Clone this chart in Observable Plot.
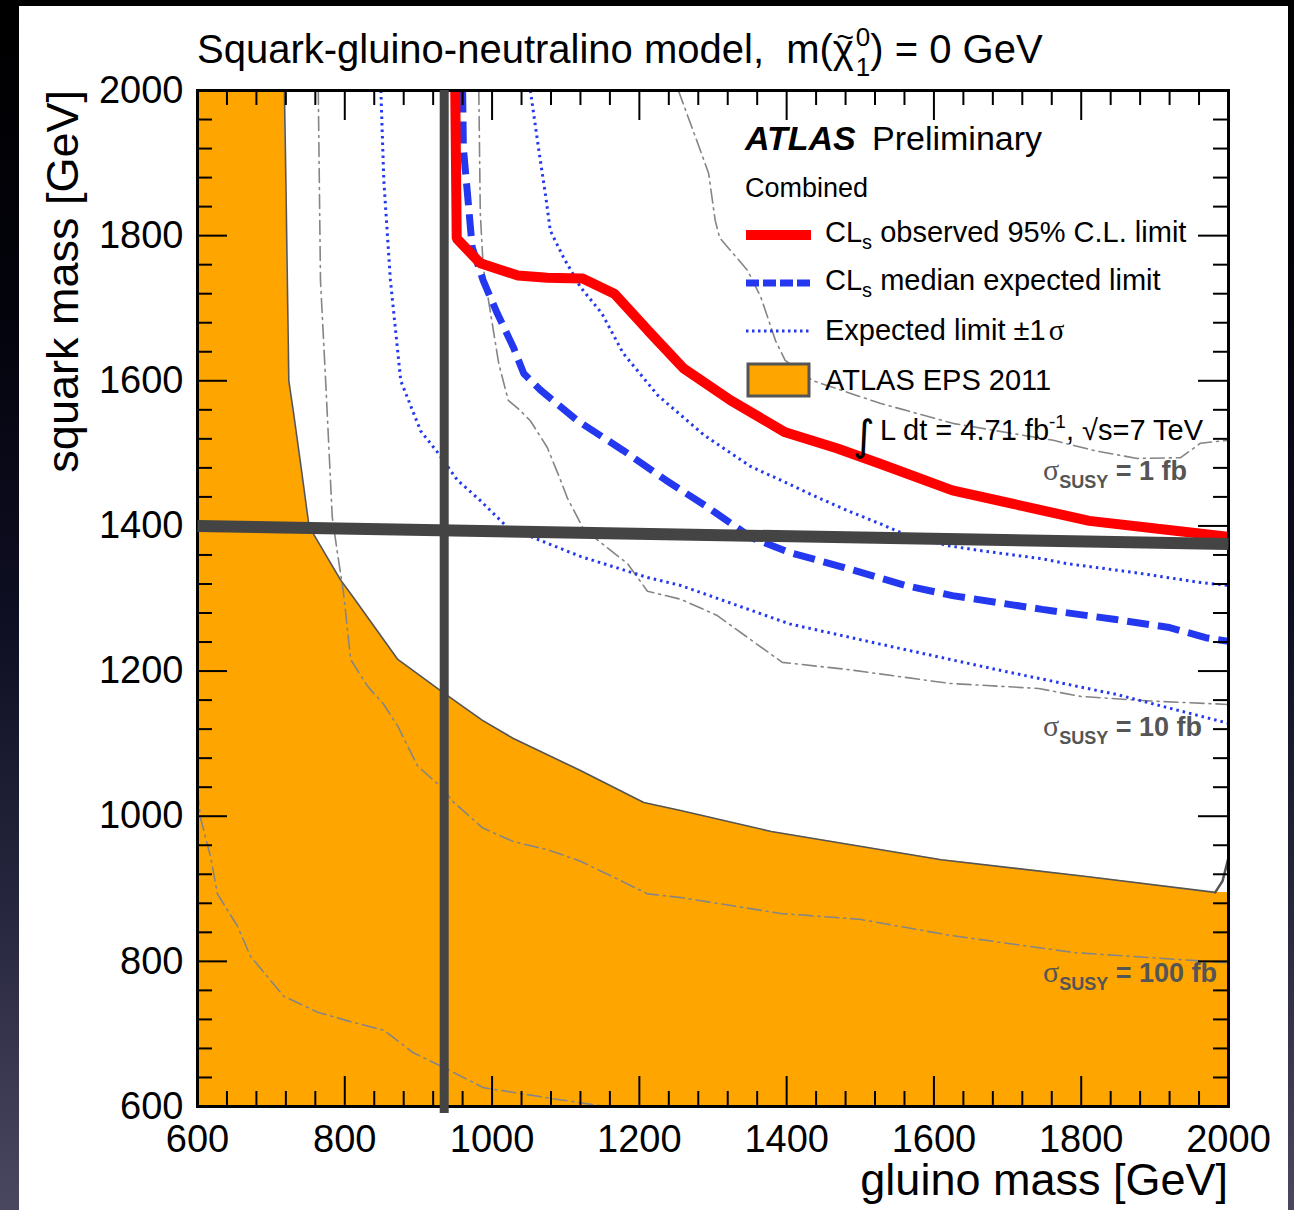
<!DOCTYPE html>
<html>
<head>
<meta charset="utf-8">
<script src="https://cdn.jsdelivr.net/npm/d3@7"></script>
<script src="https://cdn.jsdelivr.net/npm/@observablehq/plot@0.6"></script>
<style>
html, body { margin: 0; padding: 0; width: 1294px; height: 1210px; overflow: hidden; }
body {
  position: relative;
  background: linear-gradient(180deg, #000 0%, #03030c 25%, #0e0e22 50%, #26263e 75%, #4a4860 100%);
  font-family: "Liberation Sans", Arial, sans-serif;
}
#panel { position: absolute; left: 19px; top: 6px; width: 1269px; height: 1204px; background: #fff; }
#chart { position: absolute; left: 0; top: 0; }
</style>
</head>
<body>
<div id="panel"></div>
<div id="chart"></div>
<script>
// ---------- axes ----------
const xDomain = [600, 2000];
const yDomain = [600, 2000];
const xMajor = [600, 800, 1000, 1200, 1400, 1600, 1800, 2000];
const yMajor = [600, 800, 1000, 1200, 1400, 1600, 1800, 2000];
const xMinor = d3.range(640, 2000, 40).filter(v => v % 200 !== 0);
const yMinor = d3.range(640, 2000, 40).filter(v => v % 200 !== 0);

// ---------- CLs observed 95% C.L. limit ----------
const observedX = [950, 952, 984, 1035, 1075, 1123, 1166, 1212, 1260, 1324, 1398, 1468, 1526, 1625, 1718, 1811, 1904, 2000];
const observedY = [2000, 1796, 1762, 1745, 1742, 1741, 1720, 1669, 1617, 1573, 1529, 1507, 1486, 1449, 1428, 1407, 1396, 1385];

// ---------- CLs median expected limit ----------
const expectedX = [960, 961, 967, 973, 988, 1007, 1029, 1043, 1066, 1116, 1178, 1236, 1294, 1352, 1405, 1477, 1561, 1625, 1747, 1847, 1920, 1969, 2000];
const expectedY = [2000, 1921, 1853, 1784, 1738, 1693, 1646, 1610, 1587, 1545, 1504, 1463, 1425, 1384, 1363, 1343, 1318, 1304, 1285, 1271, 1260, 1246, 1241];

// ---------- expected limit +-1 sigma ----------
const expUpperX = [1052, 1063, 1073, 1079, 1097, 1120, 1149, 1178, 1225, 1288, 1351, 1392, 1436, 1483, 1527, 1564, 1618, 1663, 1745, 1781, 1871, 1962, 2000];
const expUpperY = [2000, 1921, 1853, 1807, 1770, 1729, 1693, 1638, 1580, 1525, 1482, 1463, 1442, 1421, 1403, 1387, 1373, 1366, 1355, 1348, 1336, 1322, 1318];
const expLowerX = [849, 853, 862, 876, 903, 927, 953, 984, 1021, 1120, 1211, 1256, 1404, 1550, 1699, 1847, 2000];
const expLowerY = [2000, 1876, 1738, 1600, 1531, 1500, 1463, 1435, 1398, 1358, 1329, 1318, 1265, 1232, 1199, 1168, 1128];

// ---------- ATLAS EPS 2011 excluded region ----------
const eps2011X = [718, 720, 722, 724, 730, 740, 751, 758, 794, 812, 872, 930, 987, 1029, 1120, 1206, 1256, 1379, 1610, 1807, 1982];
const eps2011Y = [2000, 1876, 1738, 1600, 1559, 1486, 1403, 1388, 1326, 1301, 1216, 1173, 1132, 1107, 1063, 1019, 1008, 979, 940, 917, 895];
const eps2011FillX = [...eps2011X, 2000, 2000];
const eps2011FillY = [...eps2011Y, 895, 600];
const eps2011HookX = [1982, 1992, 2000];
const eps2011HookY = [895, 911, 943];

// ---------- sigma_SUSY contours ----------
const xsec1X = [1253, 1283, 1294, 1303, 1309, 1347, 1365, 1385, 1398, 1436, 1527, 1627, 1762, 1817, 1876, 1935, 1962, 2000];
const xsec1Y = [2000, 1917, 1886, 1821, 1797, 1752, 1715, 1655, 1628, 1600, 1569, 1541, 1518, 1504, 1493, 1494, 1514, 1518];
const xsec10X = [982, 984, 988, 998, 1009, 1022, 1035, 1052, 1075, 1093, 1102, 1124, 1184, 1211, 1256, 1305, 1394, 1484, 1621, 1742, 1800, 1889, 2000];
const xsec10Y = [2000, 1831, 1756, 1693, 1624, 1573, 1562, 1545, 1508, 1463, 1439, 1396, 1348, 1310, 1299, 1277, 1212, 1202, 1183, 1176, 1165, 1159, 1154];
const xsec100X = [764, 767, 774, 783, 790, 798, 808, 831, 853, 872, 899, 930, 948, 987, 1029, 1075, 1120, 1165, 1211, 1256, 1392, 1499, 1621, 1791, 2000];
const xsec100Y = [2000, 1738, 1600, 1412, 1363, 1310, 1216, 1179, 1154, 1124, 1069, 1041, 1019, 984, 965, 954, 938, 916, 893, 888, 866, 858, 836, 812, 798];
const xsec1000X = [600, 604, 618, 627, 654, 672, 717, 763, 804, 853, 893, 934, 988, 1075, 1147, 1229];
const xsec1000Y = [1035, 998, 943, 893, 849, 807, 752, 730, 718, 705, 674, 654, 626, 612, 601, 588];
const xsecLabels = ["1 fb", "10 fb", "100 fb"];

// ---------- overlay guide lines ----------
const gluinoCut = [935];
const squarkCutX = [600, 2000];
const squarkCutY = [1400, 1375];

const pts = (xs, ys) => xs.map((x, i) => ({x, y: ys[i]}));

const H = 1016, W = 1031; // frame size in px
const dashDot = {stroke: "#858585", strokeWidth: 1.6, strokeDasharray: "14,5,2,5", clip: true};
const blue = "#2438f0";

const chart = Plot.plot({
  width: 1294, height: 1210,
  marginLeft: 197, marginRight: 66, marginTop: 90, marginBottom: 104,
  x: {domain: xDomain},
  y: {domain: yDomain},
  style: {background: "transparent", fontFamily: "'Liberation Sans', Arial, sans-serif", color: "black", overflow: "visible"},
  marks: [
    Plot.areaX(pts(eps2011FillX, eps2011FillY), {y: "y", x1: () => xDomain[0], x2: "x", fill: "#FFA500", clip: true}),
    Plot.line(pts(xsec1000X, xsec1000Y), {x: "x", y: "y", ...dashDot}),
    Plot.line(pts(xsec100X, xsec100Y), {x: "x", y: "y", ...dashDot}),
    Plot.line(pts(xsec10X, xsec10Y), {x: "x", y: "y", ...dashDot}),
    Plot.line(pts(xsec1X, xsec1Y), {x: "x", y: "y", ...dashDot}),
    Plot.line(pts(eps2011X, eps2011Y), {x: "x", y: "y", stroke: "#555", strokeWidth: 1.6, clip: true}),
    Plot.line(pts(eps2011HookX, eps2011HookY), {x: "x", y: "y", stroke: "#555", strokeWidth: 2.5, clip: true}),
    Plot.line(pts(expUpperX, expUpperY), {x: "x", y: "y", stroke: blue, strokeWidth: 3, strokeDasharray: "2.5,4", strokeLinecap: "butt", clip: true}),
    Plot.line(pts(expLowerX, expLowerY), {x: "x", y: "y", stroke: blue, strokeWidth: 3, strokeDasharray: "2.5,4", strokeLinecap: "butt", clip: true}),
    Plot.line(pts(expectedX, expectedY), {x: "x", y: "y", stroke: blue, strokeWidth: 7, strokeDasharray: "22,9", strokeLinecap: "butt", strokeLinejoin: "miter", clip: true}),
    Plot.line(pts(observedX, observedY), {x: "x", y: "y", stroke: "#ff0000", strokeWidth: 10, strokeLinecap: "butt", strokeLinejoin: "miter", clip: true}),
    // inward ticks on all four sides
    Plot.ruleX(xMajor, {x: d => d, stroke: "black", strokeWidth: 2, insetBottom: H - 30}),
    Plot.ruleX(xMajor, {x: d => d, stroke: "black", strokeWidth: 2, insetTop: H - 30}),
    Plot.ruleX(xMinor, {x: d => d, stroke: "black", strokeWidth: 2, insetBottom: H - 15}),
    Plot.ruleX(xMinor, {x: d => d, stroke: "black", strokeWidth: 2, insetTop: H - 15}),
    Plot.ruleY(yMajor, {y: d => d, stroke: "black", strokeWidth: 2, insetRight: W - 30}),
    Plot.ruleY(yMajor, {y: d => d, stroke: "black", strokeWidth: 2, insetLeft: W - 30}),
    Plot.ruleY(yMinor, {y: d => d, stroke: "black", strokeWidth: 2, insetRight: W - 15}),
    Plot.ruleY(yMinor, {y: d => d, stroke: "black", strokeWidth: 2, insetLeft: W - 15}),
    Plot.frame({stroke: "black", strokeWidth: 3}),
    // overlay guide lines
    Plot.line(pts(squarkCutX, squarkCutY), {x: "x", y: "y", stroke: "#444", strokeWidth: 12, strokeLinecap: "butt"}),
    Plot.ruleX(gluinoCut, {x: d => d, stroke: "#444", strokeWidth: 9, insetBottom: -7}),
    Plot.axisX(xMajor, {anchor: "bottom", tickSize: 0, tickPadding: 19, fontSize: 38, tickFormat: d => String(d), label: null, fill: "black"}),
    Plot.axisY(yMajor, {anchor: "left", tickSize: 0, tickPadding: 14, fontSize: 38, tickFormat: d => String(d), label: null, fill: "black"})
  ]
});
document.getElementById("chart").appendChild(chart);

// ---------- rich text (title, axis titles, legend, labels) ----------
const svg = d3.select(chart);
function rich(x, y, parts, attrs = {}) {
  const t = svg.append("text").attr("x", x).attr("y", y).style("white-space", "pre")
    .attr("text-anchor", "start")
    .attr("font-family", "'Liberation Sans', Arial, sans-serif");
  for (const [k, v] of Object.entries(attrs)) t.attr(k, v);
  for (const p of parts) {
    const s = t.append("tspan").text(p.t);
    if (p.x != null) s.attr("x", p.x);
    if (p.dx != null) s.attr("dx", p.dx);
    if (p.dy != null) s.attr("dy", p.dy);
    if (p.fs != null) s.attr("font-size", p.fs);
    if (p.fw != null) s.attr("font-weight", p.fw);
    if (p.st != null) s.attr("font-style", p.st);
    if (p.ff != null) s.attr("font-family", p.ff);
  }
  return t;
}

// title
const title = rich(197, 63, [
  {t: "Squark-gluino-neutralino model,  m("},
  {t: "\u03C7"},
  {t: "0", fs: 26, dx: 2, dy: -17},
  {t: "1", fs: 26, dx: -14.5, dy: 30},
  {t: ") = 0 GeV", dy: -13}
], {"font-size": 40, fill: "black"});
const chiBox = title.selectAll("tspan").nodes()[1].getBBox();
svg.append("text").attr("x", chiBox.x + chiBox.width / 2 + 2).attr("y", 47)
  .attr("text-anchor", "middle").attr("font-size", 30)
  .attr("font-family", "'Liberation Sans', Arial, sans-serif").attr("fill", "black").text("~");

// axis titles
rich(1228, 1195, [{t: "gluino mass [GeV]"}], {"font-size": 45, "text-anchor": "end", fill: "black"});
rich(78, 90, [{t: "squark mass [GeV]"}], {"font-size": 45, "text-anchor": "end", fill: "black", transform: "rotate(-90,78,90)"});

// legend header
rich(745, 150, [
  {t: "ATLAS", fw: "bold", st: "italic"},
  {t: "Preliminary", x: 872}
], {"font-size": 34, fill: "black"});
rich(745, 197, [{t: "Combined"}], {"font-size": 27, fill: "black"});

// legend samples
svg.append("line").attr("x1", 746).attr("x2", 811).attr("y1", 235).attr("y2", 235)
  .attr("stroke", "#ff0000").attr("stroke-width", 10);
svg.append("line").attr("x1", 746).attr("x2", 811).attr("y1", 283).attr("y2", 283)
  .attr("stroke", blue).attr("stroke-width", 7).attr("stroke-dasharray", "13,4");
svg.append("line").attr("x1", 746).attr("x2", 811).attr("y1", 331).attr("y2", 331)
  .attr("stroke", blue).attr("stroke-width", 3).attr("stroke-dasharray", "2.5,3.5");
svg.append("rect").attr("x", 748).attr("y", 364).attr("width", 61).attr("height", 32)
  .attr("fill", "#FFA500").attr("stroke", "#555").attr("stroke-width", 3);

// legend texts
rich(825, 242, [{t: "CL"}, {t: "s", fs: 20, dy: 7}, {t: " observed 95% C.L. limit", dy: -7}], {"font-size": 29, fill: "black"});
rich(825, 290, [{t: "CL"}, {t: "s", fs: 20, dy: 7}, {t: " median expected limit", dy: -7}], {"font-size": 29, fill: "black"});
rich(825, 340, [{t: "Expected limit \u00B11"}, {t: "\u03C3", ff: "'Liberation Serif', serif", dx: 3}], {"font-size": 29, fill: "black"});
rich(825, 390, [{t: "ATLAS EPS 2011"}], {"font-size": 29, fill: "black"});
rich(853, 450, [{t: "\u222B", fs: 42, ff: "'DejaVu Sans', sans-serif"}], {fill: "black"});
rich(880, 440, [
  {t: "L dt = 4.71 fb"},
  {t: "-1", fs: 19, dy: -12},
  {t: ", \u221As=7 TeV", dy: 12}
], {"font-size": 29, fill: "black"});

// sigma_SUSY labels
const labelBaselines = [480, 736, 982];
xsecLabels.forEach((lab, i) => {
  rich(1043, labelBaselines[i], [
    {t: "\u03C3", ff: "'Liberation Serif', serif", fs: 30},
    {t: "SUSY", fs: 18, fw: "bold", dy: 8},
    {t: " = " + lab, fs: 27, fw: "bold", dy: -8}
  ], {fill: "#555"});
});
</script>
</body>
</html>
